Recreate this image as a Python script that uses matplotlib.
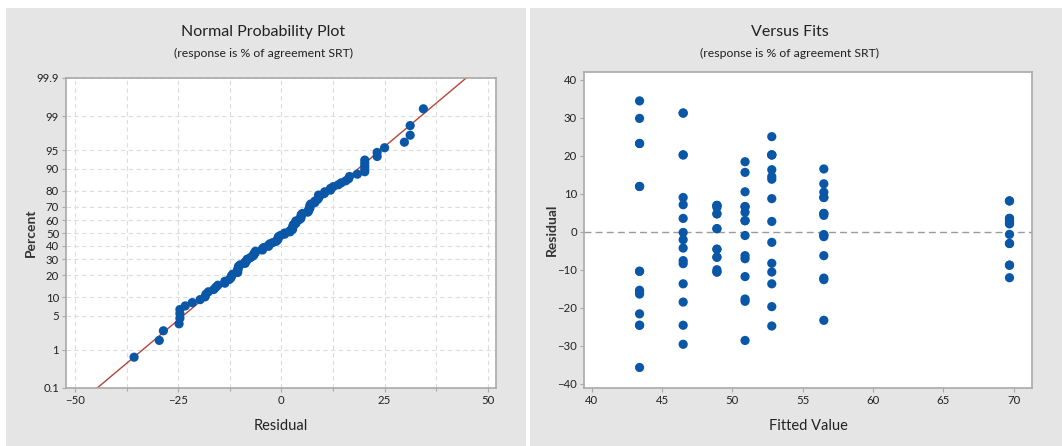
import matplotlib
matplotlib.use("Agg")
import matplotlib.pyplot as plt
from matplotlib.patches import Rectangle
from matplotlib import font_manager
from statistics import NormalDist
import numpy as np

# ---------------- data ----------------
fit_levels = [43.4, 46.5, 48.9, 50.9, 52.8, 56.5, 69.7]

res_43_4 = [34.4, 29.8, 23.2, 23.2, 11.9, 11.9, -10.4, -10.4, -15.4, -15.9,
            -16.4, -21.6, -24.6, -24.6, -35.7]
res_46_5 = [31.2, 31.2, 20.2, 20.2, 9.0, 7.1, 3.5, -0.2, -2.1, -4.3, -7.6,
            -8.4, -13.7, -18.5, -24.6, -29.6]
res_48_9 = [6.9, 6.9, 6.9, 6.4, 4.7, 4.7, 0.8, 0.8, -4.6, -4.6, -6.7, -6.7,
            -10.0, -10.6, -10.6]
res_50_9 = [18.4, 15.6, 10.5, 6.6, 6.6, 5.1, 2.9, 2.9, -1.0, -6.3, -7.1,
            -11.8, -17.7, -18.3, -28.6]
res_52_8 = [25.0, 20.2, 20.2, 20.2, 16.3, 14.5, 13.8, 8.7, 2.7, -2.8, -8.3,
            -10.6, -13.7, -19.7, -24.8]
res_56_5 = [16.5, 12.6, 10.4, 9.0, 9.0, 4.8, 4.8, 4.3, -0.8, -0.8, -1.3,
            -6.3, -12.2, -12.6, -23.3]
res_69_7 = [8.1, 8.1, 3.5, 3.5, 2.7, 2.7, 2.1, 2.1, -0.7, -3.1, -3.1, -8.8,
            -8.8, -12.1]

groups = [res_43_4, res_46_5, res_48_9, res_50_9, res_52_8, res_56_5, res_69_7]

pct_ticks = [0.1, 1, 5, 10, 20, 30, 40, 50, 60, 70, 80, 90, 95, 99, 99.9]
pct_labels = ["0.1", "1", "5", "10", "20", "30", "40", "50", "60", "70",
              "80", "90", "95", "99", "99.9"]
resid_xticks = [-50, -25, 0, 25, 50]
fit_xticks = [40, 45, 50, 55, 60, 65, 70]
resid_yticks = [-40, -30, -20, -10, 0, 10, 20, 30, 40]

title_left = "Normal Probability Plot"
title_right = "Versus Fits"
subtitle = "(response is % of agreement SRT)"

# ---------------- style ----------------
names = {f.name for f in font_manager.fontManager.ttflist}
FONT = [f for f in ["Liberation Sans Narrow", "Lato", "DejaVu Sans"] if f in names]
plt.rcParams["font.family"] = FONT
BLUE = "#0a57a8"
RED = "#b5443a"
PANEL = "#e5e5e5"
SPINE = "#a9a9a9"
TXT = "#222222"

W, H = 1062, 446
fig = plt.figure(figsize=(W / 100, H / 100), dpi=100)
fig.patch.set_facecolor("white")

def px_rect(x0, y0, x1, y1):
    return [x0 / W, 1 - y1 / H, (x1 - x0) / W, (y1 - y0) / H]

# gray panels
for (x0, x1) in [(6, 526), (530, 1062)]:
    r = px_rect(x0, 8, x1, 446)
    fig.patches.append(Rectangle((r[0], r[1]), r[2], r[3], transform=fig.transFigure,
                                 facecolor=PANEL, edgecolor="none", zorder=-10))

nd = NormalDist()

def style_axes(ax):
    ax.set_zorder(2)
    for s in ax.spines.values():
        s.set_color(SPINE)
        s.set_linewidth(1.2)
    ax.tick_params(axis="both", which="both", colors=SPINE, labelcolor=TXT,
                   labelsize=8.2, length=3, width=0.8, pad=2)

# ---------------- left: normal probability plot ----------------
axL = fig.add_axes(px_rect(66, 78, 496, 388))
style_axes(axL)
all_res = np.sort(np.concatenate([np.asarray(g, float) for g in groups]))
n = len(all_res)
ranks = np.arange(1, n + 1)
probs = (ranks - 0.3) / (n + 0.4)
zvals = np.array([nd.inv_cdf(p) for p in probs])

zlo, zhi = nd.inv_cdf(0.001), nd.inv_cdf(0.999)
mu, sd = all_res.mean(), all_res.std(ddof=1)
zline = np.array([zlo, zhi])
axL.plot(mu + sd * zline, zline, color=RED, lw=1.0, zorder=2)
axL.scatter(all_res, zvals, s=44, color=BLUE, edgecolors="none", zorder=3)

axL.set_xlim(-52.2, 52.0)
axL.set_ylim(zlo, zhi)
axL.set_yticks([nd.inv_cdf(p / 100) for p in pct_ticks])
axL.set_yticklabels(pct_labels)
axL.set_xticks(resid_xticks)
axL.set_xticks([-37.5, -12.5, 12.5, 37.5], minor=True)
axL.tick_params(axis="x", which="minor", length=2)
axL.grid(True, which="both", color="#dcdcdc", lw=0.8, ls=(0, (4, 3)))
axL.set_axisbelow(True)

# ---------------- right: versus fits ----------------
axR = fig.add_axes(px_rect(584, 72, 1032, 388))
style_axes(axR)
xs = np.concatenate([[lv] * len(g) for lv, g in zip(fit_levels, groups)])
ys = np.concatenate([np.asarray(g, float) for g in groups])
axR.axhline(0, color="#9a9a9a", lw=1.0, ls=(0, (5, 3)), zorder=1)
axR.scatter(xs, ys, s=44, color=BLUE, edgecolors="none", zorder=3)
axR.set_xlim(39.45, 71.3)
axR.set_ylim(-41.1, 42.0)
axR.set_xticks(fit_xticks)
axR.set_yticks(resid_yticks)

# ---------------- texts ----------------
fig.text(263 / W, 1 - 32 / H, title_left, ha="center", va="center",
         fontsize=11.5, color=TXT)
fig.text(263 / W, 1 - 53 / H, subtitle, ha="center", va="center",
         fontsize=8.8, color=TXT)
fig.text(790 / W, 1 - 32 / H, title_right, ha="center", va="center",
         fontsize=11.5, color=TXT)
fig.text(790 / W, 1 - 53 / H, subtitle, ha="center", va="center",
         fontsize=8.8, color=TXT)

fig.text(281 / W, 1 - 426 / H, "Residual", ha="center", va="center",
         fontsize=10.5, color=TXT)
fig.text(808 / W, 1 - 426 / H, "Fitted Value", ha="center", va="center",
         fontsize=10.5, color=TXT)
fig.text(31 / W, 1 - 233 / H, "Percent", ha="center", va="center",
         rotation=90, fontsize=10, fontweight="bold", color="#333333")
fig.text(552 / W, 1 - 230 / H, "Residual", ha="center", va="center",
         rotation=90, fontsize=10, fontweight="bold", color="#333333")

fig.savefig("out.png", dpi=100, facecolor="white")
